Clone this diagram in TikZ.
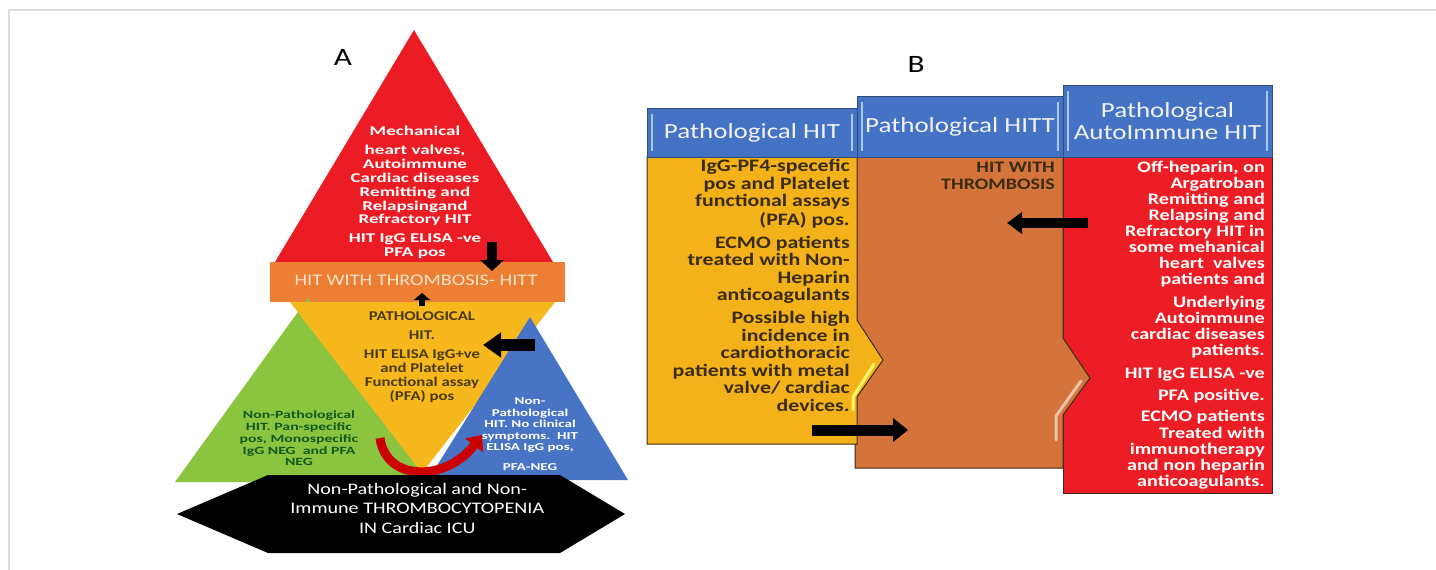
\documentclass[tikz,border=0pt]{standalone}
\usepackage{fontspec}
\setmainfont{Carlito}[FakeStretch=1.25]
\newfontfamily\widesans{Carlito}[FakeStretch=1.42]
\usetikzlibrary{arrows.meta}

\definecolor{topred}{HTML}{EC1C24}
\definecolor{hittorange}{HTML}{EC7F33}
\definecolor{pathyellow}{HTML}{F7B81E}
\definecolor{nonpgreen}{HTML}{8BC540}
\definecolor{nonpblue}{HTML}{4874C5}
\definecolor{peach}{HTML}{FDE3CC}
\definecolor{darkolive}{HTML}{4A3A10}
\definecolor{darkgreen}{HTML}{11581E}
\definecolor{colyellow}{HTML}{F3B21A}
\definecolor{colorange}{HTML}{D4743A}
\definecolor{colred}{HTML}{EC1D25}
\definecolor{hdrblue}{HTML}{4472C4}
\definecolor{hdrline}{HTML}{2E4D7F}
\definecolor{hdrbar}{HTML}{A8C8EE}
\definecolor{colline}{HTML}{3A2A1A}
\definecolor{colink}{HTML}{3A2C12}
\definecolor{framegrey}{HTML}{DDDDDD}

\newcommand{\setfs}[2]{\fontsize{#1}{#2}\selectfont}

\begin{document}
\begin{tikzpicture}[x=1pt,y=-1pt,
  txt/.style={inner sep=0pt},
  lbl/.style={inner sep=0pt,font=\setfs{25}{28}},
  hdr/.style={draw=hdrline,fill=hdrblue,line width=0.8pt,inner sep=0pt,
    text=white!95!black,font=\setfs{21.6}{22},align=center,
    path picture={
      \draw[hdrbar,line width=2.5pt]
        ([xshift=5pt,yshift=-6pt]path picture bounding box.north west) --
        ([xshift=5pt,yshift=6pt]path picture bounding box.south west);
      \draw[hdrbar,line width=2.5pt]
        ([xshift=-5pt,yshift=-6pt]path picture bounding box.north east) --
        ([xshift=-5pt,yshift=6pt]path picture bounding box.south east);}},
  body/.style={draw=colline,line width=1pt},
  shine/.style={line width=3pt,line cap=round,line join=round},
  blockarrow/.style={black,line width=#1},
  curvearrow/.style={draw=red!80!black,line width=9pt,
    -{Triangle[length=13pt,width=22pt]}}]

\useasboundingbox (0,0) rectangle (1436,570);
\fill[white] (0,0) rectangle (1436,570);
\draw[framegrey,line width=1.5pt] (9,570) -- (9,10) -- (1436,10);

% panel A
\fill[topred] (414,30) -- (553,262) -- (275,262) -- cycle;
\fill[hittorange] (270,262) rectangle (565,302);
\fill[nonpgreen] (175,482) -- (308,298) -- (432,482) -- cycle;
\fill[pathyellow] (290,302) -- (555,302) -- (422,473) -- cycle;
\fill[nonpblue] (428,480) -- (530,317) -- (628,480) -- cycle;
\coordinate (cu1) at (380,438);
\coordinate (cu2) at (482,435);
\draw[curvearrow] (cu1) .. controls (386,482) and (446,482) .. (cu2);
\fill[black] (177,514) -- (268,475) -- (560,475) -- (625,514) -- (560,553) -- (268,553) -- cycle;

\draw (343,57) node [lbl] (labA) {A};
\draw (415,193) node [txt,text=white] (mech) {\widesans\setfs{13.4}{13.8}\bfseries
  \begin{tabular}{@{}c@{}} Mechanical\\[6pt] heart valves,\\ Autoimmune\\ Cardiac diseases\\
  Remitting and\\ Relapsingand\\ Refractory HIT\\[5pt] HIT IgG ELISA -ve\\ PFA pos \end{tabular}};
\draw (416,280) node [txt,text=peach] (hitt) {\setfs{16.2}{16}HIT WITH THROMBOSIS- HITT};
\draw (422,358) node [txt,text=darkolive] (path) {\setfs{13.4}{14}\bfseries
  \begin{tabular}{@{}c@{}} PATHOLOGICAL\\[5pt] HIT.\\[5pt] HIT ELISA IgG+ve\\ and Platelet\\
  Functional assay\\ (PFA) pos \end{tabular}};
\draw (299,440) node [txt,text=darkgreen] (nonpg) {\widesans\setfs{11.1}{11.8}\bfseries
  \begin{tabular}{@{}c@{}} Non-Pathological\\ HIT. Pan-specific\\ pos, Monospecific\\
  IgG NEG\ \ and PFA\\ NEG \end{tabular}};
\draw (530,435) node [txt,text=white] (nonpb) {\widesans\setfs{10.6}{11.6}\bfseries
  \begin{tabular}{@{}c@{}} Non-\\ Pathological\\ HIT. No clinical\\ symptoms.\ \ HIT\\
  ELISA IgG pos,\\[7.5pt] PFA-NEG \end{tabular}};
\draw (415,510) node [txt,text=white] (icu) {\setfs{16.1}{19.5}
  \begin{tabular}{@{}c@{}} Non-Pathological and Non-\\ Immune THROMBOCYTOPENIA\\
  IN Cardiac ICU \end{tabular}};

\coordinate (dn1) at (492,242);
\coordinate (dn2) at (492,271);
\coordinate (up1) at (422,306);
\coordinate (up2) at (422,293);
\coordinate (lf1) at (535,345);
\coordinate (lf2) at (483,345);
\draw[blockarrow=10pt,-{Triangle[length=11pt,width=23pt]}] (dn1) -- (dn2);
\draw[blockarrow=6pt,-{Triangle[length=7pt,width=16pt]}] (up1) -- (up2);
\draw[blockarrow=12pt,-{Triangle[length=18pt,width=24pt]}] (lf1) -- (lf2);

% panel B
\filldraw[body,fill=colred] (1063,157) rectangle (1272,493);
\filldraw[body,fill=colorange] (855,157) -- (1063,157) -- (1063,338) -- (1090,378)
  -- (1063,415) -- (1063,468) -- (855,468) -- cycle;
\draw[shine,colorange!45!white] (1056,440) -- (1056,416) -- (1081,381);
\filldraw[body,fill=colyellow] (647,157) -- (857,157) -- (857,320) -- (883,360)
  -- (857,397) -- (857,444) -- (647,444) -- cycle;
\draw[shine,yellow!60!white] (853,410) -- (853,397) -- (874,364);

\draw (752,132.5) node [hdr,minimum width=210pt,minimum height=49pt] (hit) {Pathological HIT};
\draw (960,126.5) node [hdr,minimum width=206pt,minimum height=61pt] (hittB) {Pathological HITT};
\draw (1167.5,121) node [hdr,minimum width=209pt,minimum height=72pt] (auto)
  {Pathological\\ AutoImmune HIT};

\draw (916,64) node [lbl] (labB) {B};
\draw (850,288) node [txt,anchor=east,text=colink] (hitbody) {\setfs{17.5}{17.5}\bfseries
  \begin{tabular}{@{}r@{}} IgG-PF4-specefic\\ pos and Platelet\\ functional assays\\ (PFA) pos.\\[5.5pt]
  ECMO patients\\ treated with Non-\\ Heparin\\ anticoagulants\\[5.5pt]
  Possible high\\ incidence in\\ cardiothoracic\\ patients with metal\\ valve/ cardiac\\ devices.
  \end{tabular}};
\draw (1055,178) node [txt,anchor=east,text=colink] (hittbody) {\setfs{16}{17}\bfseries
  \begin{tabular}{@{}r@{}} HIT WITH\\ THROMBOSIS \end{tabular}};
\draw (1265,326) node [txt,anchor=east,text=white] (autobody) {\setfs{16.1}{16.1}\bfseries
  \begin{tabular}{@{}r@{}} Off-heparin, on\\ Argatroban\\ Remitting and\\ Relapsing and\\
  Refractory HIT in\\ some mehanical\\ heart\ \ valves\\ patients and\\[6pt]
  Underlying\\ Autoimmune\\ cardiac diseases\\ patients.\\[7pt]
  HIT IgG ELISA -ve\\[6pt] PFA positive.\\[5pt]
  ECMO patients\\ Treated with\\ immunotherapy\\ and non heparin\\ anticoagulants.
  \end{tabular}};

\coordinate (bl1) at (1088,223);
\coordinate (bl2) at (1007,223);
\coordinate (br1) at (812,430);
\coordinate (br2) at (908,430);
\draw[blockarrow=10pt,-{Triangle[length=15pt,width=21pt]}] (bl1) -- (bl2);
\draw[blockarrow=11pt,-{Triangle[length=15pt,width=23pt]}] (br1) -- (br2);
\end{tikzpicture}
\end{document}
